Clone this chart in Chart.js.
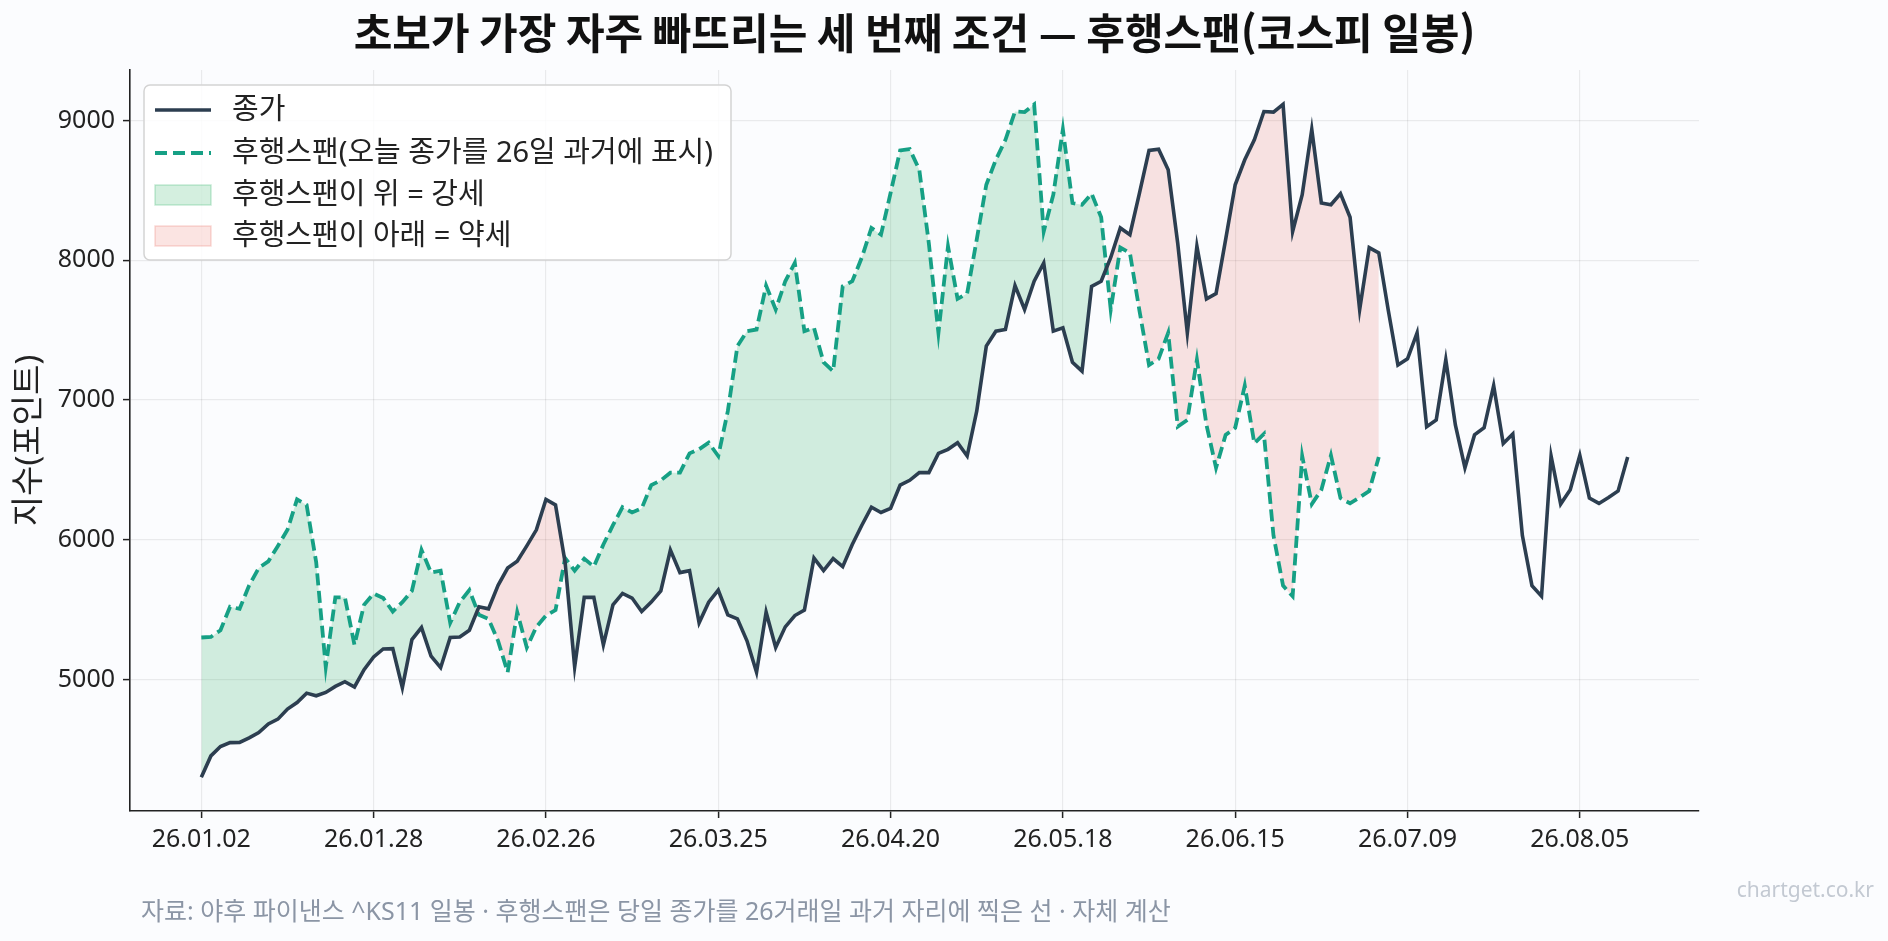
<!DOCTYPE html>
<html lang="ko">
<head>
<meta charset="utf-8">
<title>후행스팬(코스피 일봉)</title>
<script src="https://cdn.jsdelivr.net/npm/chart.js@4.4.1/dist/chart.umd.min.js"></script>
<style>
  html, body { margin: 0; padding: 0; background: #fbfcfe; }
  canvas { display: block; }
</style>
</head>
<body>
<canvas id="chart" width="1888" height="941"></canvas>
<script>
// trading days (yy.mm.dd)
const dates = [
  '26.01.02','26.01.05','26.01.06','26.01.07','26.01.08','26.01.09','26.01.12','26.01.13','26.01.14','26.01.15',
  '26.01.16','26.01.19','26.01.20','26.01.21','26.01.22','26.01.23','26.01.26','26.01.27','26.01.28','26.01.29',
  '26.01.30','26.02.02','26.02.03','26.02.04','26.02.05','26.02.06','26.02.09','26.02.10','26.02.11','26.02.12',
  '26.02.13','26.02.19','26.02.20','26.02.23','26.02.24','26.02.25','26.02.26','26.02.27','26.03.03','26.03.04',
  '26.03.05','26.03.06','26.03.09','26.03.10','26.03.11','26.03.12','26.03.13','26.03.16','26.03.17','26.03.18',
  '26.03.19','26.03.20','26.03.23','26.03.24','26.03.25','26.03.26','26.03.27','26.03.30','26.03.31','26.04.01',
  '26.04.02','26.04.03','26.04.06','26.04.07','26.04.08','26.04.09','26.04.10','26.04.13','26.04.14','26.04.15',
  '26.04.16','26.04.17','26.04.20','26.04.21','26.04.22','26.04.23','26.04.24','26.04.27','26.04.28','26.04.29',
  '26.04.30','26.05.04','26.05.06','26.05.07','26.05.08','26.05.11','26.05.12','26.05.13','26.05.14','26.05.15',
  '26.05.18','26.05.19','26.05.20','26.05.21','26.05.22','26.05.26','26.05.27','26.05.28','26.05.29','26.06.01',
  '26.06.02','26.06.04','26.06.05','26.06.08','26.06.09','26.06.10','26.06.11','26.06.12','26.06.15','26.06.16',
  '26.06.17','26.06.18','26.06.19','26.06.22','26.06.23','26.06.24','26.06.25','26.06.26','26.06.29','26.06.30',
  '26.07.01','26.07.02','26.07.03','26.07.06','26.07.07','26.07.08','26.07.09','26.07.10','26.07.13','26.07.14',
  '26.07.15','26.07.16','26.07.20','26.07.21','26.07.22','26.07.23','26.07.24','26.07.27','26.07.28','26.07.29',
  '26.07.30','26.07.31','26.08.03','26.08.04','26.08.05','26.08.06','26.08.07','26.08.10','26.08.11','26.08.12'
];

// KOSPI close
const closes = [
  4302, 4455, 4522, 4550, 4552, 4584, 4622, 4684, 4718, 4790,
  4837, 4904, 4885, 4909, 4952, 4986, 4948, 5072, 5163, 5220,
  5222, 4943, 5287, 5373, 5168, 5086, 5302, 5306, 5354, 5522,
  5507, 5675, 5799, 5847, 5957, 6072, 6290, 6250, 5840, 5091,
  5589, 5589, 5249, 5536, 5617, 5584, 5488, 5555, 5636, 5928,
  5766, 5780, 5407, 5555, 5641, 5464, 5435, 5278, 5053, 5483,
  5230, 5378, 5459, 5498, 5870, 5780, 5866, 5809, 5967, 6105,
  6234, 6196, 6225, 6392, 6426, 6481, 6481, 6619, 6648, 6695,
  6600, 6921, 7386, 7493, 7505, 7819, 7648, 7850, 7981, 7493,
  7517, 7271, 7207, 7814, 7850, 8020, 8231, 8183, 8481, 8786,
  8795, 8648, 8120, 7481, 8100, 7724, 7762, 8148, 8540, 8719,
  8862, 9064, 9060, 9115, 8206, 8469, 8936, 8410, 8397, 8477,
  8308, 7647, 8091, 8053, 7639, 7251, 7295, 7481, 6810, 6858,
  7289, 6822, 6516, 6751, 6802, 7103, 6690, 6758, 6031, 5673,
  5597, 6600, 6256, 6358, 6605, 6299, 6261, 6304, 6350, 6593
];

const LAG = 26;
// lagging span: today's close drawn LAG trading days back
const lagSpan = closes.slice(LAG);

const xTicks = [0, 18, 36, 54, 72, 90, 108, 126, 144];
const yTicks = [5000, 6000, 7000, 8000, 9000];

const LINE_COLOR = '#2c3e50';
const SPAN_COLOR = '#16a085';
const UP_FILL = 'rgba(39,174,96,0.2)';
const DOWN_FILL = 'rgba(231,76,60,0.15)';
const FONT = '"Noto Sans", "Noto Sans CJK KR", sans-serif';

Chart.defaults.font.family = FONT;
Chart.defaults.color = '#222';

const decor = {
  id: 'decor',
  beforeDraw(chart) {
    const c = chart.ctx;
    c.save();
    c.fillStyle = '#fbfcfe';
    c.fillRect(0, 0, chart.width, chart.height);
    c.restore();
  },
  afterDraw(chart) {
    const c = chart.ctx;
    const a = chart.chartArea;
    c.save();

    // title
    c.fillStyle = '#111';
    c.font = 'bold 42px "Noto Sans CJK KR", sans-serif';
    c.textAlign = 'center';
    c.textBaseline = 'middle';
    c.fillText('초보가 가장 자주 빠뜨리는 세 번째 조건 — 후행스팬(코스피 일봉)', (a.left + a.right) / 2, 33);

    // y axis label
    c.save();
    c.translate(30, (a.top + a.bottom) / 2);
    c.rotate(-Math.PI / 2);
    c.font = '33px ' + FONT;
    c.fillStyle = '#222';
    c.fillText('지수(포인트)', 0, 0);
    c.restore();

    // footer + watermark
    c.textAlign = 'left';
    c.font = '25px ' + FONT;
    c.fillStyle = '#8b95a5';
    c.fillText('자료: 야후 파이낸스 ^KS11 일봉 · 후행스팬은 당일 종가를 26거래일 과거 자리에 찍은 선 · 자체 계산', 141, 913);
    c.textAlign = 'right';
    c.font = '21px ' + FONT;
    c.fillStyle = '#c3c9d2';
    c.fillText('chartget.co.kr', 1874, 891);

    // legend box, matplotlib style
    const lx = 144, ly = 85, lw = 587, lh = 175;
    c.beginPath();
    c.roundRect(lx, ly, lw, lh, 6);
    c.fillStyle = 'rgba(255,255,255,0.85)';
    c.fill();
    c.lineWidth = 1.5;
    c.strokeStyle = '#d3d3d3';
    c.stroke();

    const rows = [110, 153, 195, 236];
    const sx0 = 155, sx1 = 211;
    c.lineWidth = 3.6;
    c.strokeStyle = LINE_COLOR;
    c.beginPath(); c.moveTo(sx0, rows[0]); c.lineTo(sx1, rows[0]); c.stroke();

    c.lineWidth = 3.8;
    c.strokeStyle = SPAN_COLOR;
    c.setLineDash([12, 6]);
    c.beginPath(); c.moveTo(sx0, rows[1]); c.lineTo(sx1, rows[1]); c.stroke();
    c.setLineDash([]);

    c.lineWidth = 1.5;
    c.fillStyle = UP_FILL;
    c.strokeStyle = 'rgba(39,174,96,0.25)';
    c.fillRect(sx0, rows[2] - 10, sx1 - sx0, 20);
    c.strokeRect(sx0, rows[2] - 10, sx1 - sx0, 20);
    c.fillStyle = DOWN_FILL;
    c.strokeStyle = 'rgba(231,76,60,0.2)';
    c.fillRect(sx0, rows[3] - 10, sx1 - sx0, 20);
    c.strokeRect(sx0, rows[3] - 10, sx1 - sx0, 20);

    const names = ['종가', '후행스팬(오늘 종가를 26일 과거에 표시)', '후행스팬이 위 = 강세', '후행스팬이 아래 = 약세'];
    c.font = '29px ' + FONT;
    c.fillStyle = '#222';
    c.textAlign = 'left';
    names.forEach((n, i) => c.fillText(n, 232, rows[i] + 1));

    c.restore();
  }
};

new Chart(document.getElementById('chart'), {
  type: 'line',
  data: {
    datasets: [
      {
        label: '종가',
        data: closes.map((v, i) => ({ x: i, y: v })),
        borderColor: LINE_COLOR,
        borderWidth: 3.6,
        pointRadius: 0,
        fill: false,
        tension: 0
      },
      {
        label: '후행스팬(오늘 종가를 26일 과거에 표시)',
        data: lagSpan.map((v, i) => ({ x: i, y: v })),
        borderColor: SPAN_COLOR,
        borderWidth: 3.8,
        borderDash: [12, 5.5],
        pointRadius: 0,
        tension: 0,
        fill: { target: 0, above: UP_FILL, below: DOWN_FILL }
      }
    ]
  },
  options: {
    responsive: false,
    animation: false,
    layout: { padding: { left: 0, top: 70, right: 189, bottom: 70 } },
    plugins: {
      legend: { display: false },
      tooltip: { enabled: false }
    },
    scales: {
      x: {
        type: 'linear',
        min: -7.45,
        max: 156.45,
        afterBuildTicks: s => { s.ticks = xTicks.map(v => ({ value: v })); },
        afterFit: s => { s.height = 60; },
        ticks: {
          callback: v => dates[v],
          font: { size: 25 },
          color: '#222',
          padding: 7,
          maxRotation: 0,
          autoSkip: false
        },
        grid: { color: 'rgba(0,0,0,0.07)', lineWidth: 1.2, tickColor: '#222', tickWidth: 1.5, tickLength: 7 },
        border: { color: '#222', width: 1.6 }
      },
      y: {
        min: 4061,
        max: 9361,
        afterBuildTicks: s => { s.ticks = yTicks.map(v => ({ value: v })); },
        afterFit: s => { s.width = 130; },
        ticks: {
          callback: v => String(v),
          font: { size: 25 },
          color: '#222',
          padding: 8
        },
        grid: { color: 'rgba(0,0,0,0.07)', lineWidth: 1.2, tickColor: '#222', tickWidth: 1.5, tickLength: 7 },
        border: { color: '#222', width: 1.6 }
      }
    }
  },
  plugins: [decor]
});
</script>
</body>
</html>
